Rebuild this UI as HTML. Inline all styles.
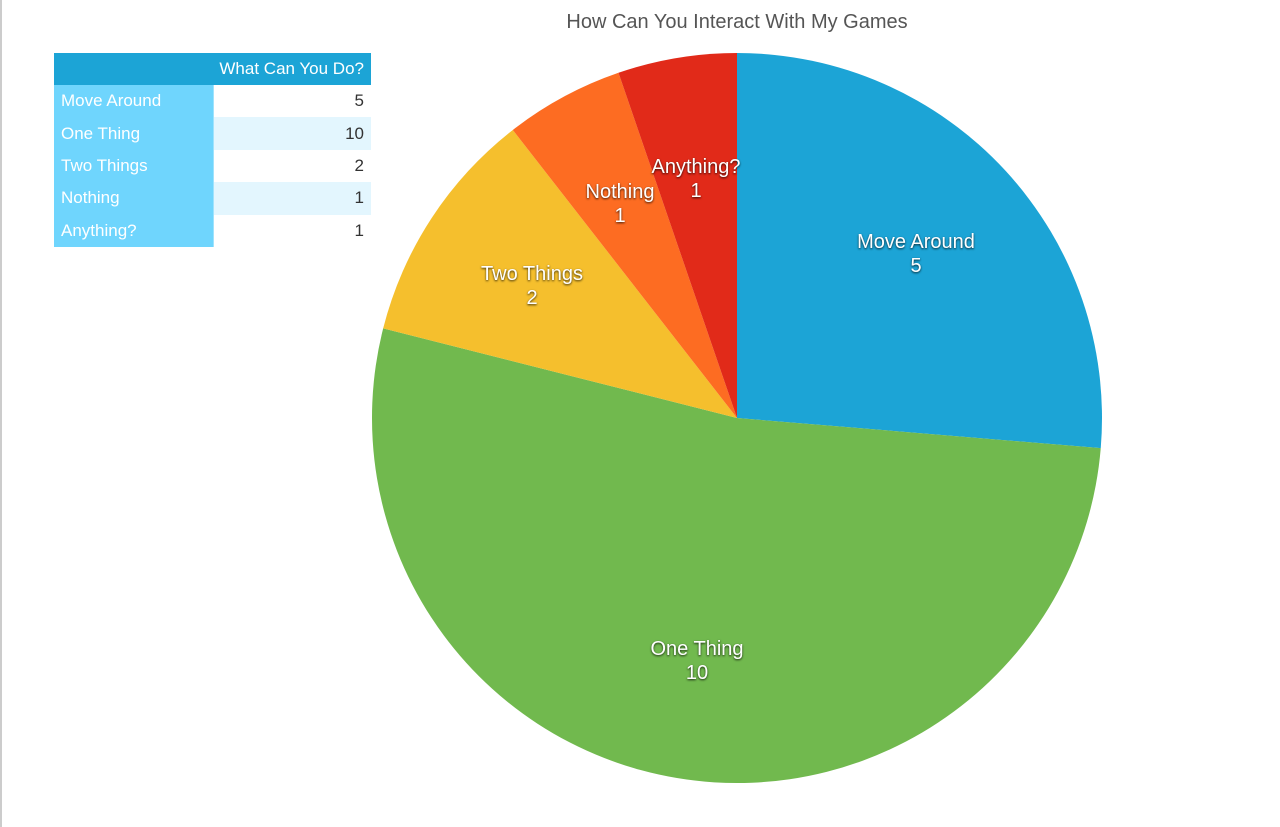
<!DOCTYPE html>
<html><head><meta charset="utf-8"><style>
body{margin:0;width:1280px;height:827px;background:#fff;font-family:"Liberation Sans",sans-serif;position:relative;overflow:hidden}
.edge{position:absolute;left:0;top:0;width:2px;height:827px;background:#ccc}
.title{position:absolute;top:11px;left:0;width:1474px;text-align:center;font-size:20px;color:#555}
table{position:absolute;left:54px;top:53px;border-collapse:collapse;font-size:17px}
td{height:32.4px;padding:0 7px;box-sizing:border-box}
th{height:32px;background:#1ca4d6;color:#fff;font-weight:normal;text-align:right;padding:0 7px}
td.l{background:#6fd5fd;color:#fff;width:159px;border-right:1px solid #9fe3fd}
td.v{text-align:right;width:158px;color:#333}
tr.a td.v{background:#e3f6fe}
svg text{font-family:"Liberation Sans",sans-serif;font-size:20px;fill:#fff;text-anchor:middle;filter:drop-shadow(0 1px 1px rgba(0,0,0,.8))}
</style></head><body>
<div class="edge"></div>
<div class="title">How Can You Interact With My Games</div>
<table>
<tr><th colspan="2">What Can You Do?</th></tr>
<tr><td class="l">Move Around</td><td class="v">5</td></tr>
<tr class="a"><td class="l">One Thing</td><td class="v">10</td></tr>
<tr><td class="l">Two Things</td><td class="v">2</td></tr>
<tr class="a"><td class="l">Nothing</td><td class="v">1</td></tr>
<tr><td class="l">Anything?</td><td class="v">1</td></tr>
</table>
<svg width="1280" height="827" style="position:absolute;left:0;top:0">
<path d="M737,418 L737,53 A365,365 0 0 1 1100.75,448.14 Z" fill="#1ca4d6"/>
<path d="M737,418 L1100.75,448.14 A365,365 0 1 1 383.17,328.40 Z" fill="#71b94e"/>
<path d="M737,418 L383.17,328.40 A365,365 0 0 1 512.81,129.96 Z" fill="#f5bf2d"/>
<path d="M737,418 L512.81,129.96 A365,365 0 0 1 618.48,72.78 Z" fill="#fd6c22"/>
<path d="M737,418 L618.48,72.78 A365,365 0 0 1 737,53 Z" fill="#e12a19"/>
<text x="916" y="248">Move Around</text><text x="916" y="272">5</text>
<text x="697" y="655">One Thing</text><text x="697" y="679">10</text>
<text x="532" y="280">Two Things</text><text x="532" y="304">2</text>
<text x="620" y="198">Nothing</text><text x="620" y="222">1</text>
<text x="696" y="173">Anything?</text><text x="696" y="197">1</text>
</svg>
</body></html>
